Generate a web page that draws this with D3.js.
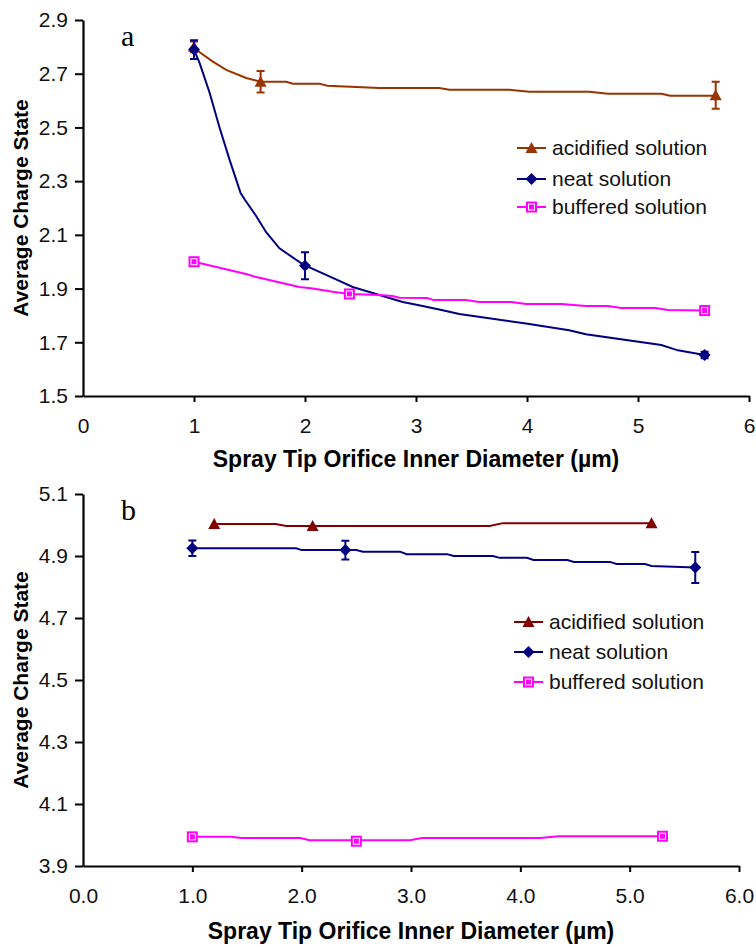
<!DOCTYPE html>
<html>
<head>
<meta charset="utf-8">
<script src="https://cdn.jsdelivr.net/npm/d3@7"></script>
<style>
  body { margin: 0; background: #fff; }
  svg { display: block; font-family: "Liberation Sans", Arial, sans-serif; }
</style>
</head>
<body>
<svg id="chart" width="756" height="946"></svg>
<script>
// ---- data ----
const seriesNames = ["acidified solution", "neat solution", "buffered solution"];

// panel a : ticks
const aXTicks = [0, 1, 2, 3, 4, 5, 6];
const aYTicks = [1.5, 1.7, 1.9, 2.1, 2.3, 2.5, 2.7, 2.9];

// panel a : measured points (markers + error bars)
const aAcidX = [1.0, 1.6, 5.7];
const aAcidY = [2.80, 2.67, 2.62];
const aAcidErr = [0.02, 0.04, 0.05];
const aNeatX = [1.0, 2.0, 5.6];
const aNeatY = [2.79, 1.985, 1.653];
const aNeatErr = [0.035, 0.05, 0.012];
const aBufX = [1.0, 2.4, 5.6];
const aBufY = [2.0, 1.88, 1.818];
const aBufErr = [0, 0, 0.015];

// panel a : curves
const aAcidLineX = [1.00, 1.17, 1.29, 1.47, 1.60, 1.83, 1.89, 2.13, 2.20, 2.67, 3.21, 3.30, 3.84, 4.02, 4.56, 4.73, 5.21, 5.29, 5.70];
const aAcidLineY = [2.795, 2.745, 2.714, 2.684, 2.67, 2.67, 2.663, 2.663, 2.655, 2.647, 2.647, 2.64, 2.64, 2.633, 2.633, 2.625, 2.625, 2.618, 2.618];
const aNeatLineX = [1.00, 1.05, 1.14, 1.23, 1.32, 1.42, 1.46, 1.56, 1.65, 1.77, 1.98, 2.25, 2.43, 2.64, 2.88, 3.06, 3.23, 3.39, 3.99, 4.38, 4.53, 5.21, 5.36, 5.60];
const aNeatLineY = [2.79, 2.74, 2.63, 2.50, 2.38, 2.256, 2.23, 2.17, 2.11, 2.05, 1.99, 1.94, 1.906, 1.88, 1.85, 1.835, 1.82, 1.805, 1.77, 1.745, 1.73, 1.69, 1.67, 1.653];
const aBufLineX = [1.00, 1.47, 1.56, 1.95, 2.07, 2.25, 2.40, 2.67, 2.79, 2.85, 3.10, 3.16, 3.45, 3.57, 3.86, 3.99, 4.31, 4.53, 4.73, 4.85, 5.16, 5.27, 5.60];
const aBufLineY = [2.00, 1.954, 1.943, 1.906, 1.90, 1.888, 1.88, 1.876, 1.872, 1.866, 1.865, 1.857, 1.857, 1.85, 1.85, 1.843, 1.843, 1.835, 1.835, 1.828, 1.828, 1.82, 1.818];

// panel b : ticks
const bXTicks = [0, 1, 2, 3, 4, 5, 6];
const bYTicks = [3.9, 4.1, 4.3, 4.5, 4.7, 4.9, 5.1];

// panel b : measured points
const bAcidX = [1.2, 2.1, 5.2];
const bAcidY = [5.003, 4.997, 5.006];
const bAcidErr = [0, 0, 0];
const bNeatX = [1.0, 2.4, 5.6];
const bNeatY = [4.925, 4.919, 4.863];
const bNeatErr = [0.025, 0.03, 0.05];
const bBufX = [1.0, 2.5, 5.3];
const bBufY = [3.994, 3.98, 3.996];
const bBufErr = [0, 0, 0];

// panel b : curves
const bAcidLineX = [1.2, 1.76, 1.86, 3.72, 3.84, 5.2];
const bAcidLineY = [5.003, 5.003, 4.997, 4.997, 5.006, 5.006];
const bNeatLineX = [1.0, 1.95, 2.0, 2.5, 2.56, 2.9, 2.96, 3.33, 3.39, 3.75, 3.81, 4.06, 4.12, 4.43, 4.49, 4.82, 4.88, 5.14, 5.2, 5.6];
const bNeatLineY = [4.925, 4.925, 4.919, 4.919, 4.914, 4.914, 4.906, 4.906, 4.90, 4.90, 4.894, 4.894, 4.887, 4.887, 4.881, 4.881, 4.874, 4.874, 4.868, 4.863];
const bBufLineX = [1.0, 1.35, 1.45, 1.99, 2.07, 2.99, 3.1, 4.18, 4.35, 5.3];
const bBufLineY = [3.994, 3.994, 3.99, 3.99, 3.983, 3.983, 3.99, 3.99, 3.996, 3.996];

const svg = d3.select("#chart");

// marker shapes
function drawMarker(g, kind, color, cx, cy) {
  if (kind === "tri") {
    g.append("path").attr("d", `M${cx},${cy - 6}L${cx + 6},${cy + 5}L${cx - 6},${cy + 5}Z`).attr("fill", color);
  } else if (kind === "dia") {
    g.append("path").attr("d", `M${cx},${cy - 6}L${cx + 6},${cy}L${cx},${cy + 6}L${cx - 6},${cy}Z`).attr("fill", color);
  } else {
    g.append("rect").attr("x", cx - 5.5).attr("y", cy - 5.5).attr("width", 11).attr("height", 11).attr("fill", color);
    g.append("rect").attr("x", cx - 3).attr("y", cy - 3).attr("width", 6).attr("height", 6)
      .attr("fill", "none").attr("stroke", "#fff").attr("stroke-width", 1);
  }
}

function drawPanel(cfg) {
  const x = d3.scaleLinear().domain([0, 6]).range([83, cfg.right]);
  const y = d3.scaleLinear().domain(cfg.yDomain).range([cfg.bottom, cfg.top]);
  const g = svg.append("g");

  // axes
  const yAxis = g.append("g")
    .attr("transform", `translate(${x(0)},0)`)
    .call(d3.axisLeft(y).tickValues(cfg.yTicks).tickFormat(d3.format(".1f")).tickSize(8).tickSizeOuter(0).tickPadding(7));
  const xAxis = g.append("g")
    .attr("transform", `translate(0,${cfg.bottom})`)
    .call(d3.axisBottom(x).tickValues(cfg.xTicks).tickFormat(cfg.xFormat).tickSize(6).tickSizeOuter(0).tickPadding(16));
  [yAxis, xAxis].forEach(a => {
    a.select(".domain").attr("stroke", "#000").attr("stroke-width", 2.2);
    a.selectAll(".tick line").attr("stroke", "#000").attr("stroke-width", 2);
    a.selectAll(".tick text").attr("font-size", 21).attr("fill", "#111")
      .attr("font-family", "'Liberation Sans', Arial, sans-serif");
  });
  xAxis.selectAll(".tick").filter(d => d === 0).select("line").remove();

  // axis titles
  g.append("text")
    .attr("transform", `translate(28,${(cfg.top + cfg.bottom) / 2}) rotate(-90)`)
    .attr("text-anchor", "middle").attr("font-weight", "bold").attr("font-size", 21)
    .text("Average Charge State");
  g.append("text")
    .attr("x", (x(0) + x(6)) / 2).attr("y", cfg.titleY)
    .attr("text-anchor", "middle").attr("font-weight", "bold").attr("font-size", 23)
    .text("Spray Tip Orifice Inner Diameter (\u00b5m)");

  // panel letter
  g.append("text").attr("x", 121).attr("y", cfg.top + 26)
    .attr("font-family", "'Liberation Serif', 'Times New Roman', serif").attr("font-size", 30)
    .text(cfg.letter);

  const line = d3.line().x(d => x(d[0])).y(d => y(d[1]));

  cfg.series.forEach(s => {
    const pts = s.lx.map((v, i) => [v, s.ly[i]]);
    g.append("path").datum(pts).attr("d", line)
      .attr("fill", "none").attr("stroke", s.color).attr("stroke-width", 2);
  });
  cfg.series.forEach(s => {
    s.mx.forEach((v, i) => {
      const e = s.err[i];
      if (e > 0) {
        const cx = x(v), y0 = y(s.my[i] - e), y1 = y(s.my[i] + e);
        g.append("path")
          .attr("d", `M${cx},${y0}V${y1}M${cx - 4},${y0}H${cx + 4}M${cx - 4},${y1}H${cx + 4}`)
          .attr("stroke", s.color).attr("stroke-width", 2).attr("fill", "none");
      }
      drawMarker(g, s.kind, s.color, x(v), y(s.my[i]));
    });
  });

  // legend
  const lg = g.append("g");
  cfg.series.forEach((s, i) => {
    const ly = cfg.legY[i];
    lg.append("line").attr("x1", cfg.legX).attr("x2", cfg.legX + 29).attr("y1", ly).attr("y2", ly)
      .attr("stroke", s.color).attr("stroke-width", 2);
    drawMarker(lg, s.kind, s.color, cfg.legX + 14.5, ly);
    lg.append("text").attr("x", cfg.legX + 35).attr("y", ly).attr("dy", "0.35em")
      .attr("font-size", 21).attr("fill", "#111").text(seriesNames[i]);
  });
}

drawPanel({
  letter: "a", right: 749, top: 20, bottom: 396, yDomain: [1.5, 2.9],
  xTicks: aXTicks, yTicks: aYTicks, xFormat: d3.format("d"), titleY: 467,
  legX: 517, legY: [148, 179, 207],
  series: [
    { kind: "tri", color: "#993300", mx: aAcidX, my: aAcidY, err: aAcidErr, lx: aAcidLineX, ly: aAcidLineY },
    { kind: "dia", color: "#000080", mx: aNeatX, my: aNeatY, err: aNeatErr, lx: aNeatLineX, ly: aNeatLineY },
    { kind: "sq", color: "#ff00ff", mx: aBufX, my: aBufY, err: aBufErr, lx: aBufLineX, ly: aBufLineY }
  ]
});

drawPanel({
  letter: "b", right: 739, top: 494, bottom: 866, yDomain: [3.9, 5.1],
  xTicks: bXTicks, yTicks: bYTicks, xFormat: d3.format(".1f"), titleY: 939,
  legX: 514, legY: [622, 652, 682],
  series: [
    { kind: "tri", color: "#800000", mx: bAcidX, my: bAcidY, err: bAcidErr, lx: bAcidLineX, ly: bAcidLineY },
    { kind: "dia", color: "#000080", mx: bNeatX, my: bNeatY, err: bNeatErr, lx: bNeatLineX, ly: bNeatLineY },
    { kind: "sq", color: "#ff00ff", mx: bBufX, my: bBufY, err: bBufErr, lx: bBufLineX, ly: bBufLineY }
  ]
});
</script>
</body>
</html>
